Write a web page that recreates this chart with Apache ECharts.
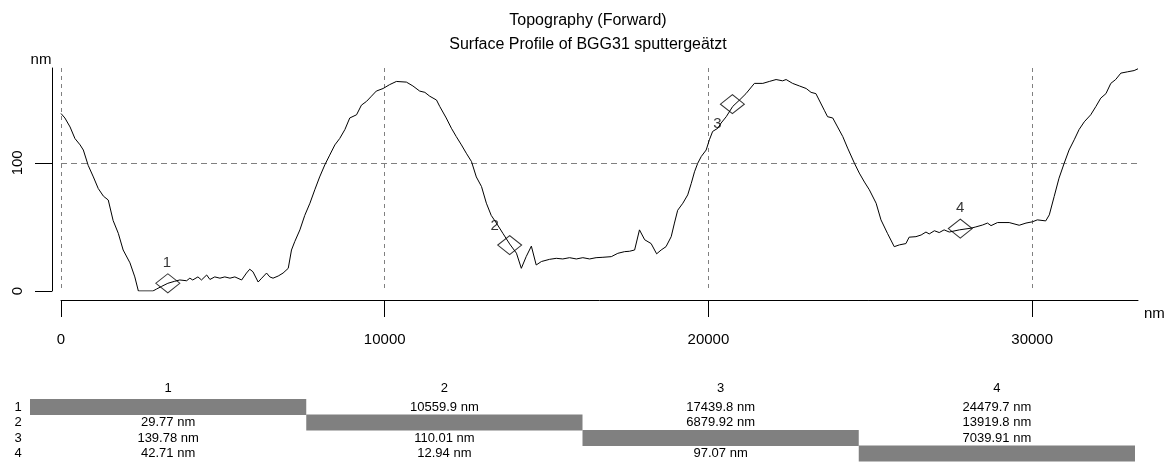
<!DOCTYPE html>
<html><head><meta charset="utf-8">
<script src="https://cdn.jsdelivr.net/npm/echarts@6/dist/echarts.min.js"></script>
<style>html,body{margin:0;padding:0;background:#fff}#c{width:1176px;height:476px}</style>
</head><body><div id="c"></div>
<script>
// ---- data (nm) ----
const profileX = [0,120,280,430,590,690,840,1000,1150,1310,1460,1610,1770,1920,2130,2280,2390,2750,2840,2950,3100,3300,3500,3670,3880,3980,4070,4230,4340,4500,4600,4750,4910,5060,5220,5370,5580,5730,5830,5930,6090,6200,6350,6450,6550,6710,6860,7020,7120,7220,7380,7530,7690,7840,7990,8150,8300,8460,8610,8770,8920,9130,9280,9440,9590,9740,9950,10150,10360,10670,10870,11080,11240,11390,11600,11700,11900,12060,12210,12370,12520,12680,12830,12990,13140,13290,13450,13650,13860,14070,14220,14370,14530,14680,14840,15090,15300,15500,15710,15920,16120,16330,16530,16740,17000,17200,17410,17560,17720,17870,18030,18230,18400,18540,18690,18850,18950,19050,19210,19360,19470,19570,19670,19780,19930,20030,20130,20290,20390,20550,20750,20960,21160,21420,21680,21880,22090,22290,22400,22600,22810,23020,23170,23320,23580,23680,23840,23990,24150,24300,24510,24660,24820,24970,25180,25330,25530,25740,25900,26100,26200,26410,26570,26720,26820,26980,27130,27280,27440,27750,28110,28260,28470,28620,28730,28930,29290,29600,29810,30010,30160,30420,30530,30680,30830,30990,31140,31300,31450,31610,31810,31970,32120,32280,32430,32580,32740,32940,33150,33270];
const profileY = [138.5,135,128,119,114,110,98,89,80,74,71,55,45,32,22,11,0,0,0,1.5,3.5,6,7.5,8.6,8,10,8.6,11,8.6,12.5,9,11,10,11,10,11,8.6,14,17,15,7,10,14,11,10,11.7,14,17.7,32,38.5,47.7,59,68.5,79,89,98.4,106,114,119,126,135,137.5,145,148,152,156,158,161,163.5,163,160,156,155,152,149,144,135,127,120.5,114,107.5,101,89,81.5,68.5,59,53,45,36.7,29.5,17.7,26.8,35,20.3,23,24.7,25.5,25,26,25,26,25,26,26.3,26.8,29.4,30.7,31,32,47.7,40,37,29,32,34.6,42.4,53,63,68.5,75,84,93,99.7,105,110,118,124.5,127,131,136,144,149,154,162,162,163.5,165,164,165,162,160,158,155,154,141,136,135,128,120.5,111.5,99.7,92,85,79,68.5,55.5,45,34.6,36,37,42,42.4,43.7,46,44.5,47,45.6,47.7,46,47.7,49,50,51.5,53,51,53.4,53.4,51.3,53,54,55.5,54.7,59.4,73.7,88,99.7,110,118,126,132,137.5,144,150.5,154,162,165,170,171,172,173.4];
const markerNames = ['1','2','3','4'];
const markerX = [3300, 13860, 20740, 27780];
const markerY = [6, 35.8, 145.8, 48.7];
const xTicks = [0, 10000, 20000, 30000];
const yTicks = [0, 100];
const xAxisUnit = 'nm';
const yAxisUnit = 'nm';
const tableHeader = ['1','2','3','4'];
const tableRowLabels = ['1','2','3','4'];
const tableRow1 = [null, '10559.9 nm', '17439.8 nm', '24479.7 nm'];
const tableRow2 = ['29.77 nm', null, '6879.92 nm', '13919.8 nm'];
const tableRow3 = ['139.78 nm', '110.01 nm', null, '7039.91 nm'];
const tableRow4 = ['42.71 nm', '12.94 nm', '97.07 nm', null];

// ---- styling ----
const FONT = '"Liberation Sans", Arial, sans-serif';
const labelOffsets = [[-1,-20],[-15,-19],[-15,20],[0,-21]];
const chart = echarts.init(document.getElementById('c'), null, {renderer:'canvas'});

const lineData = profileX.map((x,i)=>[x, profileY[i]]);
const markerData = markerX.map((x,i)=>({
  value:[x, markerY[i]], name: markerNames[i],
  label:{show:true, position:'inside', offset:labelOffsets[i], formatter: markerNames[i]}
}));

// table graphics
const tbl = {left:30, colW:276.25, headerY:388, rowY0:407, rowStep:15.5, barH:16};
const rows = [tableRow1, tableRow2, tableRow3, tableRow4];
const g = [];
tableHeader.forEach((h,j)=>{
  g.push({type:'text', x: tbl.left + tbl.colW*(j+0.5), y: tbl.headerY,
    style:{text:h, fill:'#000', font:'13px '+FONT, textAlign:'center', textVerticalAlign:'middle'}});
});
rows.forEach((r,i)=>{
  const cy = tbl.rowY0 + tbl.rowStep*i;
  g.push({type:'text', x: 18, y: cy,
    style:{text:tableRowLabels[i], fill:'#000', font:'13px '+FONT, textAlign:'center', textVerticalAlign:'middle'}});
  r.forEach((c,j)=>{
    if (c === null) {
      g.push({type:'rect', shape:{x: tbl.left + tbl.colW*j, y: cy - tbl.barH/2, width: tbl.colW, height: tbl.barH},
        style:{fill:'#808080'}});
    } else {
      g.push({type:'text', x: tbl.left + tbl.colW*(j+0.5), y: cy,
        style:{text:c, fill:'#000', font:'13px '+FONT, textAlign:'center', textVerticalAlign:'middle'}});
    }
  });
});
// x-axis unit, placed right of the axis end
g.push({type:'text', x:1144, y:314,
  style:{text:xAxisUnit, fill:'#000', font:'15px '+FONT, textAlign:'left', textVerticalAlign:'middle'}});

const option = {
  animation:false,
  backgroundColor:'#fff',
  title:[
    {text:'Topography (Forward)', left:'center', top:8, textStyle:{fontSize:16, fontWeight:'normal', color:'#000', fontFamily:FONT}},
    {text:'Surface Profile of BGG31 sputtergeätzt', left:'center', top:32, textStyle:{fontSize:16, fontWeight:'normal', color:'#000', fontFamily:FONT}}
  ],
  grid:{left:61, right:38, top:68, bottom:185, containLabel:false},
  xAxis:{
    type:'value', min:0, max:33270, interval:10000, offset:9,
    axisLine:{show:true, onZero:false, lineStyle:{color:'#000', width:1}},
    axisTick:{show:true, length:17, lineStyle:{color:'#000'}, customValues:xTicks},
    axisLabel:{color:'#000', fontSize:15, margin:32, fontFamily:FONT, customValues:xTicks, formatter:v=>String(v)},
    splitLine:{show:true, lineStyle:{color:'#808080', type:[4,4], width:1}}
  },
  yAxis:{
    type:'value', min:0, max:174, interval:100, offset:9,
    axisLine:{show:true, onZero:false, lineStyle:{color:'#000', width:1}},
    axisTick:{show:true, length:17, lineStyle:{color:'#000'}, customValues:yTicks},
    axisLabel:{color:'#000', fontSize:15, margin:27, rotate:90, fontFamily:FONT, customValues:yTicks, formatter:v=>String(v)},
    splitLine:{show:true, showMinLine:false, lineStyle:{color:'#808080', type:[6,4], width:1}},
    name:yAxisUnit, nameLocation:'end', nameGap:1,
    nameTextStyle:{color:'#000', fontSize:15, fontFamily:FONT, align:'center', padding:[0,22,0,0]}
  },
  series:[
    {type:'line', data:lineData, showSymbol:false, symbol:'none', silent:true,
     lineStyle:{color:'#000', width:1}, z:2},
    {type:'scatter', data:markerData, symbol:'diamond', symbolSize:[24,19], silent:true,
     itemStyle:{color:'rgba(0,0,0,0)', borderColor:'#000', borderWidth:1},
     label:{color:'#000', fontSize:15, fontFamily:FONT}, z:3}
  ],
  graphic:g
};
chart.setOption(option);
</script></body></html>
